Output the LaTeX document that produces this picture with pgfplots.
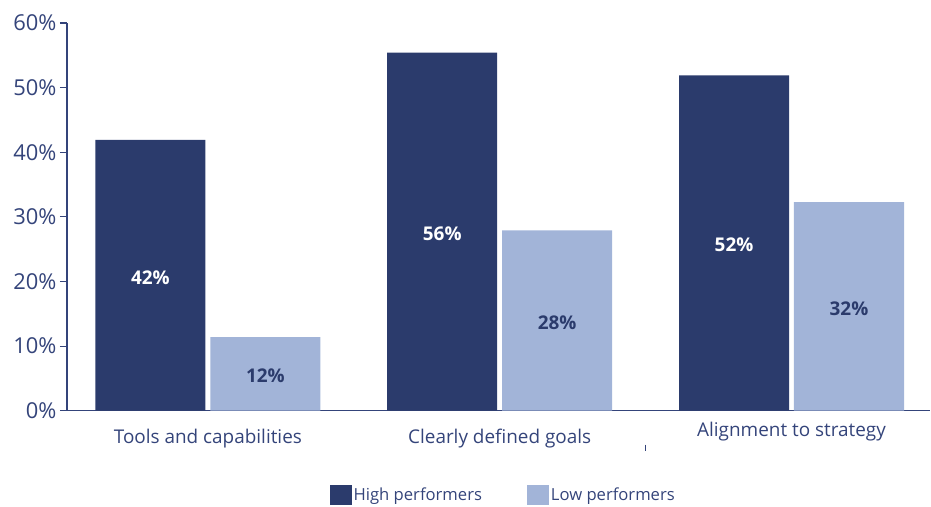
\documentclass[border=0pt]{standalone}
\usepackage{fontspec}
\setmainfont{Open Sans}
\usepackage{pgfplots}
\usepackage{pgfplotstable}
\pgfplotsset{compat=1.18}
\definecolor{navy}{HTML}{2B3B6C}
\definecolor{lightb}{HTML}{A2B4D8}
\definecolor{txt}{HTML}{34447A}
\pgfplotstableread{
x y label
0 41.9 42\%
1 55.4 56\%
2 51.9 52\%
}\high
\pgfplotstableread{
x y label
0 11.4 12\%
1 27.9 28\%
2 32.3 32\%
}\low
\begin{document}
\begin{tikzpicture}
\begin{axis}[
  scale only axis, width=864bp, height=388bp,
  xmin=-0.483, xmax=2.476, ymin=0, ymax=60,
  ybar, bar width=0.377,
  axis x line*=bottom, axis y line*=left,
  axis line style={txt, line width=1.2bp},
  ytick={0,10,...,60},
  yticklabel={\pgfmathprintnumber{\tick}\%},
  /pgf/number format/assume math mode=true,
  yticklabel style={font=\fontsize{22}{24}\selectfont, text=txt},
  y tick style={txt, line width=1.2bp},
  tick align=outside, major tick length=7bp,
  xtick={0,1,2},
  xticklabels={Tools and capabilities, Clearly defined goals, \raisebox{7bp}[\height][\depth]{Alignment to strategy}},
  xticklabel style={font=\fontsize{19}{22}\selectfont, text=txt, yshift=-8bp},
  x tick style={draw=none},
  extra x ticks={0.5},
  extra x tick labels={},
  extra x tick style={x tick style={txt, line width=1.2bp}},
  clip=false,
  legend style={at={(axis description cs:0.3005,-0.2165)}, anchor=west, draw=none, fill=none,
    font=\fontsize{16.7}{19}\selectfont, text=txt,
    legend columns=2, /tikz/every even column/.append style={column sep=43bp}},
  legend image code/.code={\fill[#1] (0bp,-10bp) rectangle (22bp,10bp);},
  nodes near coords,
  point meta=explicit symbolic,
  visualization depends on=y \as \rawy,
  every node near coord/.append style={font=\bfseries\fontsize{19}{22}\selectfont, anchor=center,
     yshift=-0.5*\rawy*6.4667bp-2bp},
]
\addplot[draw=none, fill=navy, bar shift=-0.197,
  every node near coord/.append style={text=white}] table[x=x,y=y,meta=label]{\high};
\addlegendentry{High performers}
\addplot[draw=none, fill=lightb, bar shift=0.197,
  every node near coord/.append style={text=navy}] table[x=x,y=y,meta=label]{\low};
\addlegendentry{Low performers}
\draw[txt, line width=1.2bp] ([yshift=-34bp]axis cs:1.5,0) -- ([yshift=-40bp]axis cs:1.5,0);
\end{axis}
\path (-67bp,-94bp) rectangle (864bp,411bp);
\end{tikzpicture}
\end{document}
